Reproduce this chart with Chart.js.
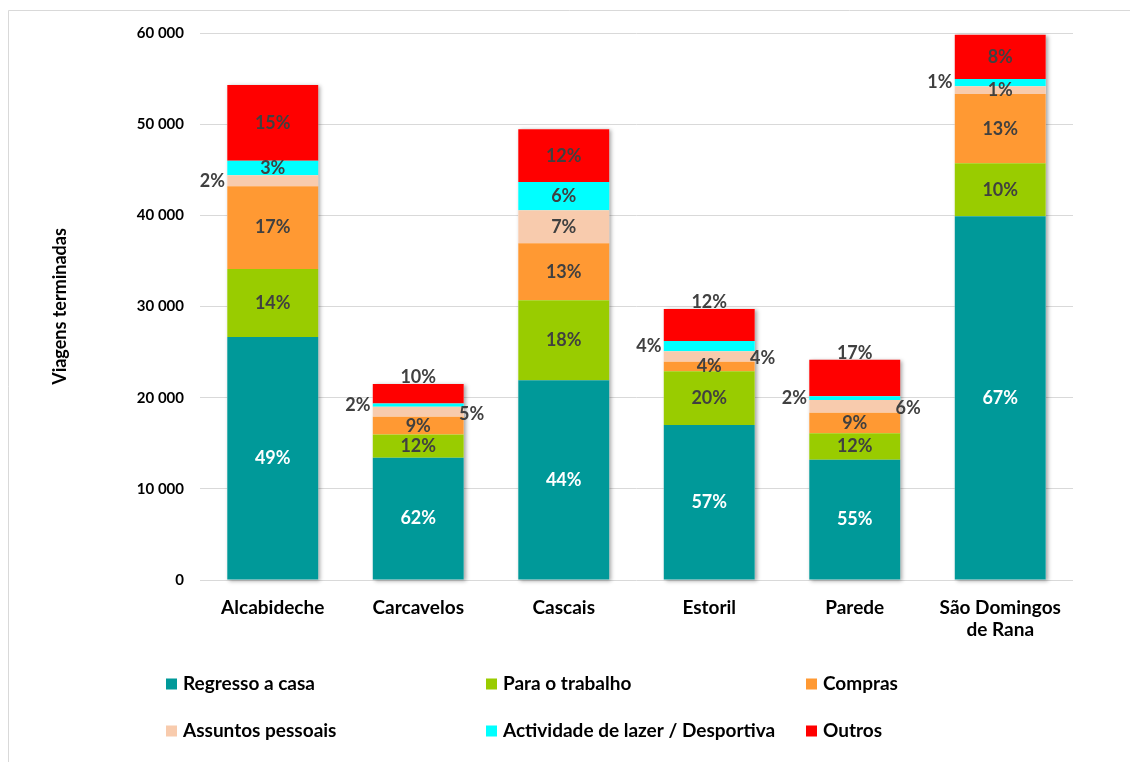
<!DOCTYPE html>
<html>
<head>
<meta charset="utf-8">
<script src="https://cdn.jsdelivr.net/npm/chart.js@4.4.0/dist/chart.umd.min.js"></script>
<style>
html, body { margin: 0; padding: 0; background: #fff; }
#wrap { position: relative; width: 1130px; height: 762px; }
</style>
</head>
<body>
<div id="wrap"><canvas id="viagensChart" width="1130" height="762"></canvas></div>
<script>
//
//
// Data
var categories = ['Alcabideche', 'Carcavelos', 'Cascais', 'Estoril', 'Parede', ['São Domingos', 'de Rana']];
var seriesNames = ['Regresso a casa', 'Para o trabalho', 'Compras', 'Assuntos pessoais', 'Actividade de lazer / Desportiva', 'Outros'];
var regressoCasa = [26650, 13400, 21900, 17000, 13200, 39900];
var paraTrabalho = [7450, 2550, 8780, 5890, 2900, 5800];
var compras = [9100, 1950, 6250, 1060, 2250, 7600];
var assuntosPessoais = [1200, 1100, 3620, 1130, 1400, 850];
var lazerDesporto = [1600, 350, 3100, 1130, 400, 800];
var outros = [8300, 2150, 5780, 3510, 4000, 4850];
var yTickValues = [0, 10000, 20000, 30000, 40000, 50000, 60000];

//
//
// Styles
var seriesColors = ['#009999', '#99cc00', '#ff9933', '#f8cbad', '#00ffff', '#ff0000'];
var labelColors = ['#ffffff', '#404040', '#404040', '#404040', '#404040', '#404040'];
// where each % label sits: c inside, l left of bar, r right of bar, t above bar
var labelPlace = [
    ['c', 'c', 'c', 'c', 'c', 'c'],
    ['c', 'c', 'c', 'c', 'c', 'c'],
    ['c', 'c', 'c', 'c', 'c', 'c'],
    ['l', 'r', 'c', 'r', 'r', 'c'],
    ['c', 'l', 'c', 'l', 'l', 'l'],
    ['c', 't', 'c', 't', 't', 'c']
];
var fontFamily = 'Lato, "Open Sans", sans-serif';

function thousands(v) {
    return String(v).replace(/\B(?=(\d{3})+(?!\d))/g, ' ');
}

//
// Background + frame
var framePlugin = {
    id: 'frame',
    beforeDraw: function(chart) {
        var ctx = chart.ctx;
        ctx.save();
        ctx.fillStyle = '#ffffff';
        ctx.fillRect(0, 0, chart.width, chart.height);
        ctx.strokeStyle = '#d9d9d9';
        ctx.lineWidth = 1;
        ctx.beginPath();
        ctx.moveTo(8.5, chart.height);
        ctx.lineTo(8.5, 10.5);
        ctx.lineTo(chart.width, 10.5);
        ctx.stroke();
        ctx.restore();
    },
    beforeDatasetsDraw: function(chart) {
        // soft shadow under each stacked column
        var ctx = chart.ctx;
        var first = chart.getDatasetMeta(0).data;
        var last = chart.getDatasetMeta(chart.data.datasets.length - 1).data;
        ctx.save();
        ctx.shadowColor = 'rgba(0,0,0,0.35)';
        ctx.shadowBlur = 4;
        ctx.shadowOffsetX = 2;
        ctx.shadowOffsetY = 1;
        ctx.fillStyle = '#ffffff';
        for (var j = 0; j < first.length; j++) {
            var w = first[j].width;
            ctx.fillRect(first[j].x - w / 2, last[j].y, w, first[j].base - last[j].y);
        }
        ctx.restore();
    }
};

//
// Percentage labels
var percentPlugin = {
    id: 'percentLabels',
    afterDatasetsDraw: function(chart) {
        var ctx = chart.ctx;
        var sets = chart.data.datasets;
        ctx.save();
        ctx.font = 'bold 18px ' + fontFamily;
        ctx.textAlign = 'center';
        ctx.textBaseline = 'middle';
        for (var i = 0; i < sets.length; i++) {
            var meta = chart.getDatasetMeta(i);
            meta.data.forEach(function(bar, j) {
                var total = 0;
                sets.forEach(function(ds) { total += ds.data[j]; });
                var pct = Math.round(sets[i].data[j] / total * 100) + '%';
                var cy = (bar.y + bar.base) / 2;
                var x = bar.x, y = cy;
                var place = labelPlace[i][j];
                if (place === 'l') { x = bar.x - bar.width / 2 - 15; }
                if (place === 'r') { x = bar.x + bar.width / 2 + 8; y = cy + 2; }
                if (place === 't') { y = bar.y - 7; }
                ctx.fillStyle = place === 'c' ? labelColors[i] : '#404040';
                ctx.fillText(pct, x, y);
            });
        }
        ctx.restore();
    }
};

//
// Legend in a 3 x 2 grid
var gridLegendPlugin = {
    id: 'gridLegend',
    afterDraw: function(chart) {
        var ctx = chart.ctx;
        ctx.save();
        ctx.font = 'bold 19px ' + fontFamily;
        ctx.textBaseline = 'middle';
        ctx.textAlign = 'left';
        chart.data.datasets.forEach(function(ds, i) {
            var x = 166 + (i % 3) * 320;
            var y = 684 + Math.floor(i / 3) * 47;
            ctx.fillStyle = ds.backgroundColor;
            ctx.fillRect(x, y - 5.5, 11, 11);
            ctx.fillStyle = '#000000';
            ctx.fillText(ds.label, x + 17, y);
        });
        ctx.restore();
    }
};

//
// Chart
var seriesData = [regressoCasa, paraTrabalho, compras, assuntosPessoais, lazerDesporto, outros];
var datasets = seriesNames.map(function(name, i) {
    return {
        label: name,
        data: seriesData[i],
        backgroundColor: seriesColors[i],
        borderWidth: 0,
        categoryPercentage: 1,
        barPercentage: 0.625
    };
});

var ctx = document.getElementById('viagensChart').getContext('2d');
new Chart(ctx, {
    type: 'bar',
    data: {
        labels: categories,
        datasets: datasets
    },
    options: {
        responsive: false,
        animation: false,
        layout: {
            padding: { left: 49, right: 57, top: 33, bottom: 122 }
        },
        plugins: {
            legend: { display: false },
            tooltip: { enabled: false }
        },
        scales: {
            x: {
                stacked: true,
                grid: { display: false, drawTicks: false },
                border: { display: false },
                ticks: {
                    padding: 17,
                    color: '#000000',
                    font: { family: fontFamily, size: 19, weight: 'bold', lineHeight: 1.17 }
                },
                afterFit: function(scale) { scale.height = 60; }
            },
            y: {
                stacked: true,
                min: 0,
                max: 60000,
                afterBuildTicks: function(scale) {
                    scale.ticks = yTickValues.map(function(v) { return { value: v }; });
                },
                grid: { color: '#d9d9d9', lineWidth: 1, drawTicks: false },
                border: { display: false },
                ticks: {
                    padding: 16,
                    color: '#000000',
                    font: { family: fontFamily, size: 15, weight: 'bold' },
                    callback: function(v) { return thousands(v); }
                },
                title: {
                    display: true,
                    text: 'Viagens terminadas',
                    color: '#000000',
                    padding: 0,
                    font: { family: fontFamily, size: 18, weight: 'bold' }
                },
                afterFit: function(scale) { scale.width = 151; }
            }
        }
    },
    plugins: [framePlugin, percentPlugin, gridLegendPlugin]
});
</script>
</body>
</html>
